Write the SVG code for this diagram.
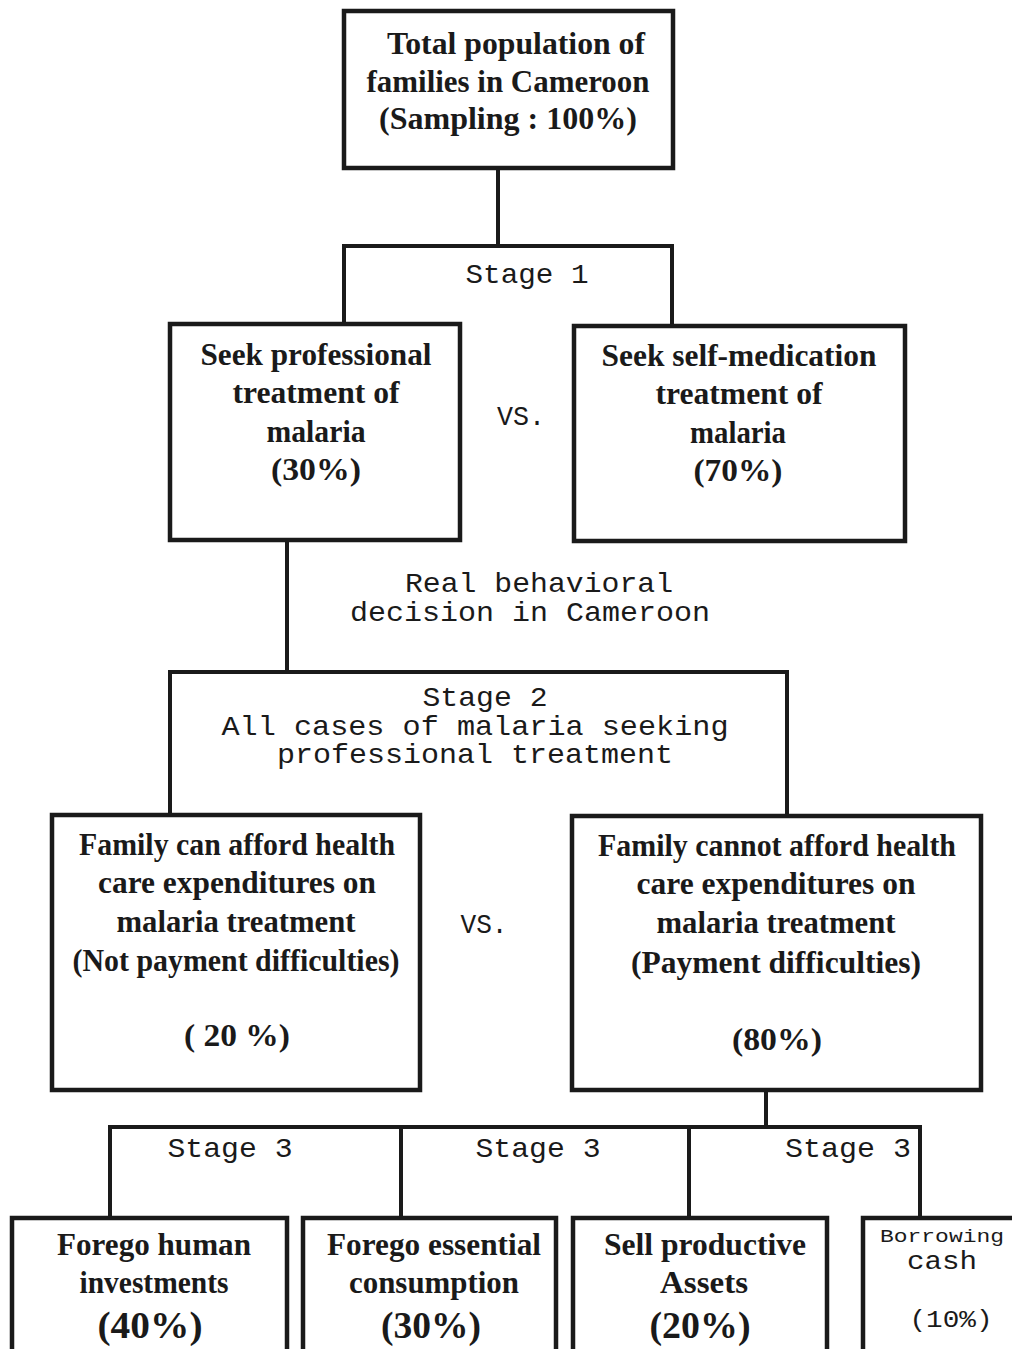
<svg xmlns="http://www.w3.org/2000/svg" width="1012" height="1349" viewBox="0 0 1012 1349">
<style>
.box{fill:none;stroke:#1a1a1a;stroke-width:4.5}
.ln{fill:none;stroke:#1a1a1a;stroke-width:4}
.s{font-family:"Liberation Serif","Times New Roman",serif;font-weight:bold;font-size:31px;fill:#1a1a1a;text-anchor:middle}
.m{font-family:"Liberation Mono","Courier New",monospace;font-size:28px;fill:#1a1a1a;text-anchor:middle}
</style>
<rect width="1012" height="1349" fill="#ffffff"/>
<g id="connectors">
<path class="ln" d="M498,168 V246 M344,324 V246 H672 V326"/>
<path class="ln" d="M287,540 V672 M170,815 V672 H787 V816"/>
<path class="ln" d="M766,1090 V1127 M110,1218 V1127 H920 V1218 M401,1127 V1218 M689,1127 V1218"/>
</g>
<g id="n_total">
<rect class="box" x="344" y="11" width="329" height="157"/>
<text class="s" x="516" y="54" textLength="258" lengthAdjust="spacingAndGlyphs">Total population of</text>
<text class="s" x="508" y="92" textLength="283" lengthAdjust="spacingAndGlyphs">families in Cameroon</text>
<text class="s" x="508" y="129" textLength="258" lengthAdjust="spacingAndGlyphs">(Sampling : 100%)</text>
</g>
<g id="stage1">
<text class="m" x="527" y="283" textLength="123" lengthAdjust="spacingAndGlyphs">Stage 1</text>
</g>
<g id="n_prof">
<rect class="box" x="170" y="324" width="290" height="216"/>
<text class="s" x="316" y="365" textLength="231" lengthAdjust="spacingAndGlyphs">Seek professional</text>
<text class="s" x="316" y="403" textLength="167" lengthAdjust="spacingAndGlyphs">treatment of</text>
<text class="s" x="316" y="442" textLength="99" lengthAdjust="spacingAndGlyphs">malaria</text>
<text class="s" x="316" y="480" textLength="90" lengthAdjust="spacingAndGlyphs">(30%)</text>
</g>
<g id="vs1">
<text class="m" x="521" y="425" textLength="48" lengthAdjust="spacingAndGlyphs">VS.</text>
</g>
<g id="n_self">
<rect class="box" x="574" y="326" width="331" height="215"/>
<text class="s" x="739" y="366" textLength="275" lengthAdjust="spacingAndGlyphs">Seek self-medication</text>
<text class="s" x="739" y="404" textLength="167" lengthAdjust="spacingAndGlyphs">treatment of</text>
<text class="s" x="738" y="443" textLength="96" lengthAdjust="spacingAndGlyphs">malaria</text>
<text class="s" x="738" y="481" textLength="89" lengthAdjust="spacingAndGlyphs">(70%)</text>
</g>
<g id="real">
<text class="m" x="539" y="592" textLength="268" lengthAdjust="spacingAndGlyphs">Real behavioral</text>
<text class="m" x="530" y="621" textLength="360" lengthAdjust="spacingAndGlyphs">decision in Cameroon</text>
</g>
<g id="stage2">
<text class="m" x="485" y="706" textLength="125" lengthAdjust="spacingAndGlyphs">Stage 2</text>
<text class="m" x="475" y="735" textLength="507" lengthAdjust="spacingAndGlyphs">All cases of malaria seeking</text>
<text class="m" x="475" y="763" textLength="396" lengthAdjust="spacingAndGlyphs">professional treatment</text>
</g>
<g id="n_afford">
<rect class="box" x="52" y="815" width="368" height="275"/>
<text class="s" x="237" y="855" textLength="316" lengthAdjust="spacingAndGlyphs">Family can afford health</text>
<text class="s" x="237" y="893" textLength="278" lengthAdjust="spacingAndGlyphs">care expenditures on</text>
<text class="s" x="236" y="932" textLength="239" lengthAdjust="spacingAndGlyphs">malaria treatment</text>
<text class="s" x="236" y="971" textLength="327" lengthAdjust="spacingAndGlyphs">(Not payment difficulties)</text>
<text class="s" x="237" y="1046" textLength="106" lengthAdjust="spacingAndGlyphs">( 20 %)</text>
</g>
<g id="vs2">
<text class="m" x="484" y="933" textLength="47" lengthAdjust="spacingAndGlyphs">VS.</text>
</g>
<g id="n_cannot">
<rect class="box" x="572" y="816" width="409" height="274"/>
<text class="s" x="777" y="856" textLength="358" lengthAdjust="spacingAndGlyphs">Family cannot afford health</text>
<text class="s" x="776" y="894" textLength="279" lengthAdjust="spacingAndGlyphs">care expenditures on</text>
<text class="s" x="776" y="933" textLength="239" lengthAdjust="spacingAndGlyphs">malaria treatment</text>
<text class="s" x="776" y="973" textLength="290" lengthAdjust="spacingAndGlyphs">(Payment difficulties)</text>
<text class="s" x="777" y="1050" textLength="90" lengthAdjust="spacingAndGlyphs">(80%)</text>
</g>
<g id="stage3">
<text class="m" x="230" y="1157" textLength="125" lengthAdjust="spacingAndGlyphs">Stage 3</text>
<text class="m" x="538" y="1157" textLength="125" lengthAdjust="spacingAndGlyphs">Stage 3</text>
<text class="m" x="848" y="1157" textLength="126" lengthAdjust="spacingAndGlyphs">Stage 3</text>
</g>
<g id="n_forego_human">
<rect class="box" x="12" y="1218" width="275" height="150"/>
<text class="s" x="154" y="1255" textLength="194" lengthAdjust="spacingAndGlyphs">Forego human</text>
<text class="s" x="154" y="1293" textLength="149" lengthAdjust="spacingAndGlyphs">investments</text>
<text class="s" x="150" y="1338" style="font-size:38px" textLength="105" lengthAdjust="spacingAndGlyphs">(40%)</text>
</g>
<g id="n_forego_cons">
<rect class="box" x="303" y="1218" width="253" height="150"/>
<text class="s" x="434" y="1255" textLength="214" lengthAdjust="spacingAndGlyphs">Forego essential</text>
<text class="s" x="434" y="1293" textLength="170" lengthAdjust="spacingAndGlyphs">consumption</text>
<text class="s" x="431" y="1338" style="font-size:38px" textLength="100" lengthAdjust="spacingAndGlyphs">(30%)</text>
</g>
<g id="n_sell">
<rect class="box" x="573" y="1218" width="254" height="150"/>
<text class="s" x="705" y="1255" textLength="202" lengthAdjust="spacingAndGlyphs">Sell productive</text>
<text class="s" x="704" y="1293" textLength="88" lengthAdjust="spacingAndGlyphs">Assets</text>
<text class="s" x="700" y="1338" style="font-size:38px" textLength="101" lengthAdjust="spacingAndGlyphs">(20%)</text>
</g>
<g id="n_borrow">
<rect class="box" x="863" y="1218" width="160" height="150"/>
<text class="m" x="942" y="1242" style="font-size:18px" textLength="124" lengthAdjust="spacingAndGlyphs">Borrowing</text>
<text class="m" x="942" y="1269" style="font-size:25px" textLength="70" lengthAdjust="spacingAndGlyphs">cash</text>
<text class="m" x="951" y="1327" style="font-size:24px" textLength="83" lengthAdjust="spacingAndGlyphs">(10%)</text>
</g>
</svg>
